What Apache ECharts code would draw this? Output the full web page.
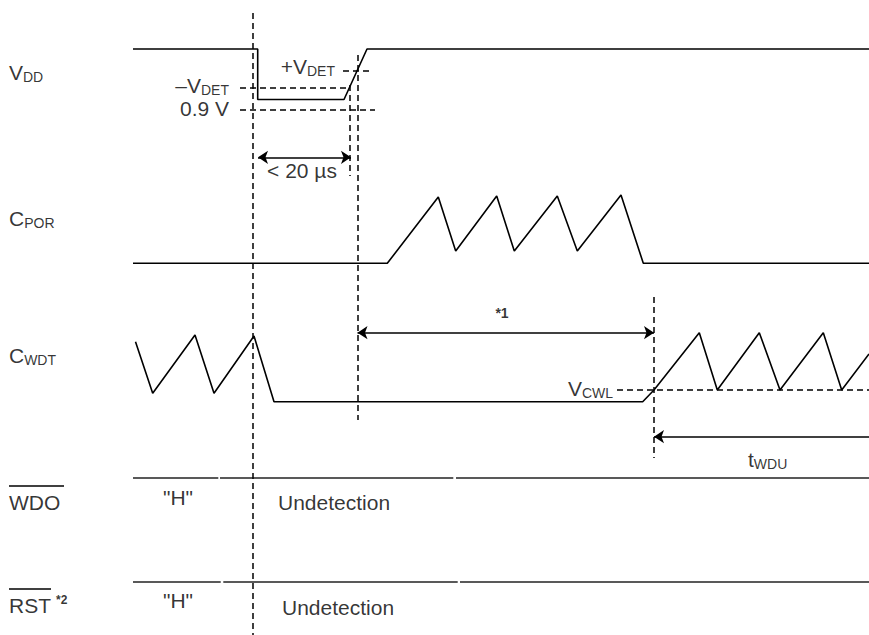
<!DOCTYPE html>
<html>
<head>
<meta charset="utf-8">
<script src="https://cdn.jsdelivr.net/npm/echarts@6/dist/echarts.min.js"></script>
<style>
html,body{margin:0;padding:0;background:#fff;}
#c{width:869px;height:635px;}
</style>
</head>
<body>
<div id="c"></div>
<script>
// ---- waveform data (x = time axis units, y = level axis units) ----
const vddWave = [[133,49],[257.7,49],[257.7,99.5],[344,99.5],[367,49],[869,49]];
const cporWave = [[133,263.3],[387.3,263.3],[438.3,197],[455.7,251],[496.7,196],[514.3,251],[557.3,196],[577.3,251],[621,195],[643.3,263.3],[869,263.3]];
const cwdtWave = [[135.5,341.7],[152.7,393.3],[195,335],[214,393.3],[254,336],[274,401.7],[642.7,401.7],[654,390],[699.3,332.7],[717.3,390],[759.3,332.7],[780,390],[823.3,332.7],[841.7,390],[869,354]];
const wdoLevel = 477.3;
const wdoSegments = [[133,218.3],[220,453.3],[456,869]];
const rstLevel = 581.7;
const rstSegments = [[133,220.7],[223.3,457.7],[460,869]];

// ---- guide lines (dashed) ----
const guideVertical = [[252.5,13,635],[357.5,55,420],[349.5,85,176],[654,297,458]];
const guideHorizontal = [[88,240,350],[70.7,343,373],[109.7,240,375],[390,617,869]];

// ---- timing arrows: [y, xFrom, xTo, startHead, endHead] ----
const timingArrows = [[157.3,258,351,true,true],[332.7,357.5,654,true,true],[436.7,869,654,false,true]];

// ---- text labels ----
const signalNames = ['{m|V}{s|DD}','{m|C}{s|POR}','{m|C}{s|WDT}','{m|WDO}','{m|RST}{sup|*2}'];
const annotationTexts = ['{m|+V}{s|DET}','{m|\u2013V}{s|DET}','{m|0.9 V}','{m|< 20 \u00b5s}','{b|*1}','{m|V}{s|CWL}','{m|t}{s|WDU}','{m|"H"}','{m|"H"}','{m|Undetection}','{m|Undetection}'];

// layout of labels (anchor points & alignment)
const signalAnchors = [[9,72],[9,218],[9,355],[9,502],[9,605]];
const annotationAnchors = [
  [335,66,'right'],[229,85,'right'],[229,108,'right'],[302,170,'center'],[502,313,'center'],
  [613,388,'right'],[748,459,'left'],[163,497,'left'],[163,600,'left'],[278,502.7,'left'],[282,607,'left']
];

const FONT = '"Liberation Sans", Arial, Helvetica, sans-serif';
const rich = {
  m:{fontSize:21,lineHeight:23,fontFamily:FONT,color:'#000'},
  s:{fontSize:14,lineHeight:15,verticalAlign:'bottom',fontFamily:FONT,color:'#000'},
  sup:{fontSize:12,fontWeight:'bold',lineHeight:15,verticalAlign:'top',fontFamily:FONT,color:'#000',padding:[0,0,0,5]},
  b:{fontSize:14,fontWeight:'bold',lineHeight:16,fontFamily:FONT,color:'#000'}
};

const waveStyle = {color:'#000',width:1.6};
function wave(data){
  return {type:'line',data:data,symbol:'none',lineStyle:waveStyle,silent:true,animation:false,z:3};
}
function labelPoint(text,x,y,align){
  return {value:[x,y],label:{show:true,formatter:text,position:'inside',align:align,verticalAlign:'middle',rich:rich}};
}

const levelLines = [];
wdoSegments.forEach(s=>levelLines.push({coords:[[s[0],wdoLevel],[s[1],wdoLevel]]}));
rstSegments.forEach(s=>levelLines.push({coords:[[s[0],rstLevel],[s[1],rstLevel]]}));

const dashed = [];
guideVertical.forEach(g=>dashed.push({coords:[[g[0],g[1]],[g[0],g[2]]]}));
guideHorizontal.forEach(g=>dashed.push({coords:[[g[1],g[0]],[g[2],g[0]]]}));

const arrows = timingArrows.map(a=>({
  coords:[[a[1],a[0]],[a[2],a[0]]],
  symbol:[a[3]?'arrow':'none',a[4]?'arrow':'none']
}));

const labels = [];
signalNames.forEach((t,i)=>labels.push(labelPoint(t,signalAnchors[i][0],signalAnchors[i][1],'left')));
annotationTexts.forEach((t,i)=>labels.push(labelPoint(t,annotationAnchors[i][0],annotationAnchors[i][1],annotationAnchors[i][2])));

const chart = echarts.init(document.getElementById('c'),null,{renderer:'svg'});
chart.setOption({
  backgroundColor:'#fff',
  animation:false,
  grid:{left:0,right:0,top:0,bottom:0},
  xAxis:{type:'value',min:0,max:869,show:false},
  yAxis:{type:'value',min:0,max:635,inverse:true,show:false},
  series:[
    wave(vddWave), wave(cporWave), wave(cwdtWave),
    {type:'lines',coordinateSystem:'cartesian2d',data:levelLines,symbol:'none',
     lineStyle:{color:'#222',width:1.5,opacity:1},silent:true,animation:false},
    {type:'lines',coordinateSystem:'cartesian2d',data:dashed,symbol:'none',
     lineStyle:{color:'#000',width:1.5,type:[6,4],opacity:1},silent:true,animation:false,z:2},
    {type:'lines',coordinateSystem:'cartesian2d',data:arrows,symbolSize:10,
     lineStyle:{color:'#000',width:1.6,opacity:1},silent:true,animation:false,z:3},
    {type:'scatter',data:labels,symbolSize:0,silent:true,animation:false,z:5}
  ],
  graphic:[
    {type:'line',shape:{x1:9,y1:486,x2:64,y2:486},style:{stroke:'#000',lineWidth:1.4},silent:true},
    {type:'line',shape:{x1:9,y1:589,x2:51,y2:589},style:{stroke:'#000',lineWidth:1.4},silent:true}
  ]
});
</script>
</body>
</html>
